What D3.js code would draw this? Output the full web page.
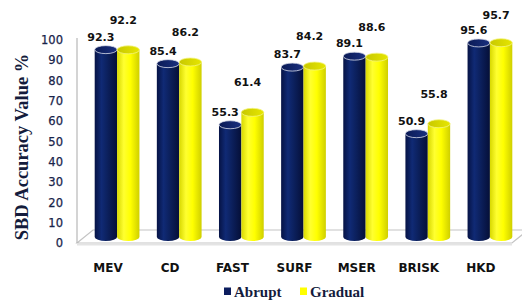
<!DOCTYPE html>
<html><head><meta charset="utf-8">
<script src="https://cdn.jsdelivr.net/npm/d3@7"></script>
<style>
html,body{margin:0;padding:0;background:#fff;}
svg{display:block;}
</style></head>
<body>
<div id="chart"></div>
<script>
const categories = ["MEV","CD","FAST","SURF","MSER","BRISK","HKD"];
const seriesNames = ["Abrupt","Gradual"];
const abrupt = [92.3, 85.4, 55.3, 83.7, 89.1, 50.9, 95.6];
const gradual = [92.2, 86.2, 61.4, 84.2, 88.6, 55.8, 95.7];
const yTicks = [0,10,20,30,40,50,60,70,80,90,100];
const axisTitle = "SBD Accuracy Value %";

const W = 522, H = 302;
const svg = d3.select("#chart").append("svg").attr("width", W).attr("height", H);
const defs = svg.append("defs");

function hGrad(id, stops){
  const g = defs.append("linearGradient").attr("id", id).attr("x1","0%").attr("x2","100%").attr("y1","0%").attr("y2","0%");
  stops.forEach(s => g.append("stop").attr("offset", s[0]).attr("stop-color", s[1]));
}
hGrad("gA", [["0%","#061345"],["30%","#102a75"],["55%","#0c215f"],["100%","#050f38"]]);
hGrad("gG", [["0%","#d8d800"],["30%","#ffff30"],["60%","#ffff00"],["100%","#cfcf00"]]);
hGrad("tA", [["0%","#0a1a55"],["100%","#1a3080"]]);
hGrad("tG", [["0%","#c8c800"],["100%","#e6e600"]]);

const left = 77, right = 512, y0 = 243, yTop = 40;
const depth = {x: 16, y: -13};
const bar3d = {x: 9, y: -6};

const x0 = d3.scaleBand().domain(categories).range([left, right]).paddingInner(0.28).paddingOuter(0.14);
const x1 = d3.scaleBand().domain(seriesNames).range([0, x0.bandwidth()]);
const y = d3.scaleLinear().domain([0,100]).range([y0, yTop]);

// floor
const floorPts = [[left, y0],[right, y0],[right+depth.x, y0+depth.y],[left+depth.x, y0+depth.y]];
svg.append("path").attr("d", "M"+floorPts.map(p=>p.join(",")).join("L")+"Z")
  .attr("fill","#fff").attr("stroke","#c4c4c4").attr("stroke-width",1.2);
svg.append("line").attr("x1",left).attr("x2",right).attr("y1",y0+1.5).attr("y2",y0+1.5)
  .attr("stroke","#e4e4e4").attr("stroke-width",2);

// vertical axis line
svg.append("line").attr("x1",left).attr("x2",left).attr("y1",y(100)-2).attr("y2",y0)
  .attr("stroke","#b8b8b8").attr("stroke-width",1.2);

// y tick labels
svg.append("g").selectAll("text").data(yTicks).join("text")
  .attr("x", 63).attr("y", d => y(d)).attr("dy","0.36em")
  .attr("text-anchor","end").attr("font-family","DejaVu Sans, Verdana, sans-serif")
  .attr("font-size", 11.5).attr("fill","#18234a").attr("stroke","#18234a").attr("stroke-width",0.25)
  .text(d => d);

// axis title
svg.append("text").attr("transform","translate(22,147) rotate(-90)")
  .attr("text-anchor","middle").attr("dy","0.35em")
  .attr("font-family","Liberation Serif, Times New Roman, serif").attr("font-weight","bold")
  .attr("font-size",18.5).attr("fill","#141c3c").text(axisTitle);

// bars
const rows = categories.map((c,i) => ({cat:c, vals:[{s:"Abrupt", v:abrupt[i]},{s:"Gradual", v:gradual[i]}]}));
const bw = x1.bandwidth();
const ry = 4;
const g = svg.append("g");
rows.forEach(r => {
  r.vals.forEach(d => {
    const xl = x0(r.cat) + x1(d.s) + bar3d.x;
    const xr = xl + bw;
    const top = y(d.v) + bar3d.y;
    const bot = y(0) + bar3d.y;
    const isA = d.s === "Abrupt";
    g.append("path")
      .attr("d", `M${xl},${top} L${xl},${bot} A${bw/2},${ry} 0 0 0 ${xr},${bot} L${xr},${top} Z`)
      .attr("fill", isA ? "url(#gA)" : "url(#gG)");
    g.append("ellipse").attr("cx", xl+bw/2).attr("cy", top).attr("rx", bw/2).attr("ry", ry)
      .attr("fill", isA ? "url(#tA)" : "url(#tG)")
      .attr("stroke", isA ? "#d8dcea" : "#f4f480").attr("stroke-width", 0.8);
  });
});

// value labels
rows.forEach(r => {
  r.vals.forEach(d => {
    const cx = x0(r.cat) + x1(d.s) + bar3d.x + bw/2 - 5;
    const top = y(d.v) + bar3d.y;
    const isA = d.s === "Abrupt";
    const cy = Math.max(top - (isA ? 13 : 30), 15);
    svg.append("text").attr("x", cx).attr("y", cy).attr("dy","0.36em")
      .attr("text-anchor","middle").attr("font-family","DejaVu Sans, Verdana, sans-serif")
      .attr("font-weight","bold").attr("font-size",11).attr("fill","#111")
      .text(d.v.toFixed(1));
  });
});

// category labels
svg.append("g").selectAll("text").data(categories).join("text")
  .attr("x", d => x0(d) + x0.bandwidth()/2).attr("y", 272)
  .attr("text-anchor","middle").attr("font-family","DejaVu Sans, Verdana, sans-serif")
  .attr("font-weight","bold").attr("font-size",12).attr("fill","#111").text(d => d);

// legend
const legend = [{name:"Abrupt", color:"#0c1d5e", x:224},{name:"Gradual", color:"#ffff00", x:300}];
const lg = svg.append("g");
legend.forEach(l => {
  lg.append("rect").attr("x", l.x).attr("y", 287.5).attr("width", 7).attr("height", 7.5).attr("fill", l.color);
  lg.append("text").attr("x", l.x + 10).attr("y", 297)
    .attr("font-family","Liberation Serif, Times New Roman, serif").attr("font-weight","bold")
    .attr("font-size",15).attr("fill","#141c3c").text(l.name);
});
</script>
</body></html>
